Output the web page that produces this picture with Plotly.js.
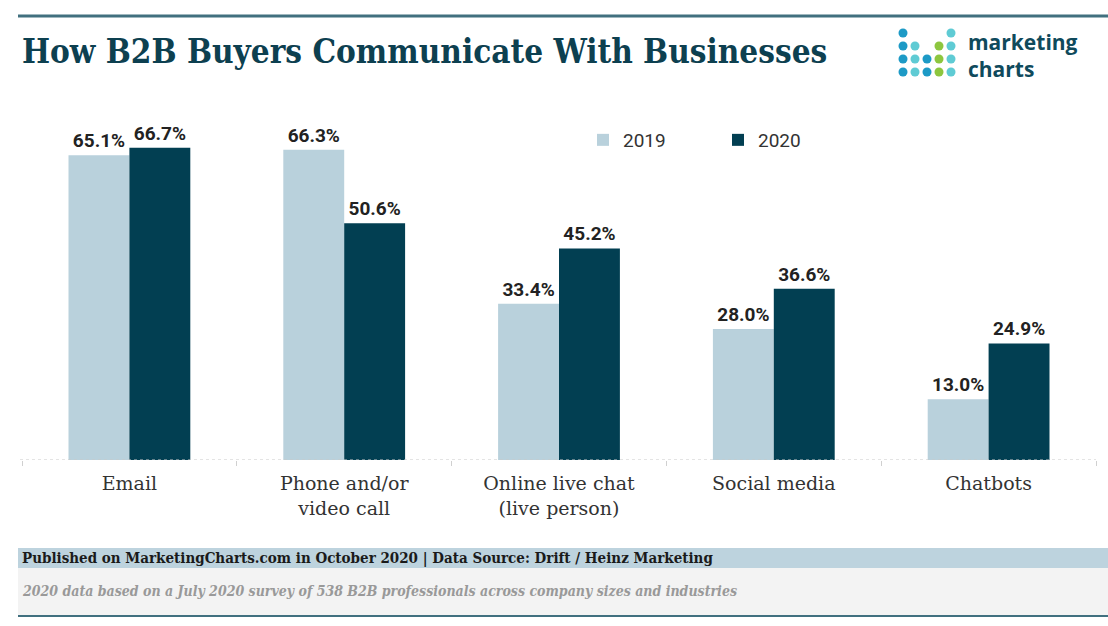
<!DOCTYPE html>
<html>
<head>
<meta charset="utf-8">
<script src="https://cdn.plot.ly/plotly-3.0.1.min.js"></script>
<style>
html,body{margin:0;padding:0;background:#fff;}
#chart{width:1108px;height:626px;}
</style>
</head>
<body>
<div id="chart"></div>
<script>
// ---- data ----
const categories = ['Email', 'Phone and/or<br>video call', 'Online live chat<br>(live person)', 'Social media', 'Chatbots'];
const seriesNames = ['2019', '2020'];
const values2019 = [65.1, 66.3, 33.4, 28.0, 13.0];
const values2020 = [66.7, 50.6, 45.2, 36.6, 24.9];

const titleText = 'How B2B Buyers Communicate With Businesses';
const footerSource = 'Published on MarketingCharts.com in October 2020 | Data Source: Drift / Heinz Marketing';
const footerNote = '2020 data based on a July 2020 survey of 538 B2B professionals across company sizes and industries';
const logoText = 'marketing<br>charts';

// ---- layout helpers (pixel -> paper) ----
const W = 1108, H = 626;
const M = {l: 22, r: 12, t: 100, b: 166};
const PW = W - M.l - M.r, PH = H - M.t - M.b;
const px = X => (X - M.l) / PW;
const py = Y => (H - M.b - Y) / PH;

const c2019 = '#b9d1dc';
const c2020 = '#023f52';
const teal = '#41707f';

const traces = [
  {type: 'bar', name: seriesNames[0], x: categories, y: values2019, marker: {color: c2019},
   texttemplate: '%{y:.1f}%', textposition: 'outside', cliponaxis: false,
   textfont: {family: 'Roboto, sans-serif', size: 19, color: '#222', weight: 'bold'}, hoverinfo: 'skip'},
  {type: 'bar', name: seriesNames[1], x: categories, y: values2020, marker: {color: c2020},
   texttemplate: '%{y:.1f}%', textposition: 'outside', cliponaxis: false,
   textfont: {family: 'Roboto, sans-serif', size: 19, color: '#222', weight: 'bold'}, hoverinfo: 'skip'}
];

const shapes = [
  // top rule
  {type: 'line', xref: 'paper', yref: 'paper', x0: px(18), x1: px(1108), y0: py(16), y1: py(16), line: {color: teal, width: 3}},
  // dashed baseline
  {type: 'line', xref: 'paper', yref: 'y', x0: px(20), x1: px(1096), y0: 0, y1: 0, line: {color: '#c8c8c8', width: 1, dash: 'dot'}},
  // footer bands
  {type: 'rect', xref: 'paper', yref: 'paper', x0: px(18), x1: px(1108), y0: py(548), y1: py(568), fillcolor: '#bdd3de', line: {width: 0}, layer: 'below'},
  {type: 'rect', xref: 'paper', yref: 'paper', x0: px(18), x1: px(1108), y0: py(568), y1: py(615), fillcolor: '#f3f3f3', line: {width: 0}, layer: 'below'},
  {type: 'line', xref: 'paper', yref: 'paper', x0: px(18), x1: px(1108), y0: py(616), y1: py(616), line: {color: teal, width: 2}}
];

// logo dots
const dotBlue = '#1d9ac6', dotTeal = '#5fcbd4', dotGreen = '#8dc63f';
const colX = [903, 915, 927, 939, 951];
const rowY = [33, 46, 59, 72];
const dotRows = [
  [dotBlue, null, null, null, dotTeal],
  [dotBlue, dotTeal, null, dotGreen, dotTeal],
  [dotBlue, dotTeal, dotBlue, dotGreen, dotTeal],
  [dotBlue, dotTeal, dotBlue, dotGreen, dotTeal]
];
const r = 4.5;
dotRows.forEach((row, i) => row.forEach((col, j) => {
  if (!col) return;
  shapes.push({type: 'circle', xref: 'paper', yref: 'paper',
    x0: px(colX[j] - r), x1: px(colX[j] + r), y0: py(rowY[i] + r), y1: py(rowY[i] - r),
    fillcolor: col, line: {width: 0}});
}));

const annotations = [
  {xref: 'paper', yref: 'paper', x: px(966), y: py(55), xanchor: 'left', yanchor: 'middle', align: 'left', showarrow: false,
   text: '<b>' + logoText + '</b>', font: {family: 'Open Sans, sans-serif', size: 21, color: '#0f4a5c'}},
  {xref: 'paper', yref: 'paper', x: px(20), y: py(558), xanchor: 'left', yanchor: 'middle', showarrow: false,
   text: '<b>' + footerSource + '</b>', font: {family: 'DejaVu Serif Condensed, DejaVu Serif, serif', size: 15, color: '#1a1a1a'}},
  {xref: 'paper', yref: 'paper', x: px(20), y: py(591), xanchor: 'left', yanchor: 'middle', showarrow: false,
   text: '<b><i>' + footerNote + '</i></b>', font: {family: 'DejaVu Serif Condensed, DejaVu Serif, serif', size: 14, color: '#999'}}
];

const layout = {
  width: W, height: H,
  margin: M,
  paper_bgcolor: '#fff', plot_bgcolor: '#fff',
  title: {text: '<b>' + titleText + '</b>', xref: 'container', yref: 'container', x: 22 / W, xanchor: 'left',
    y: 1 - 51 / H, yanchor: 'middle', font: {family: 'DejaVu Serif Condensed, DejaVu Serif, serif', size: 33, color: '#0d4050'}},
  barmode: 'group', bargap: 0.433, bargroupgap: 0,
  showlegend: true,
  legend: {orientation: 'h', xref: 'paper', yref: 'paper', x: px(583), xanchor: 'left', y: py(140), yanchor: 'middle',
    font: {family: 'Roboto, sans-serif', size: 19, color: '#333'}, entrywidth: 90, entrywidthmode: 'pixels',
    bgcolor: 'rgba(0,0,0,0)', traceorder: 'normal'},
  xaxis: {type: 'category', showgrid: false, zeroline: false, showline: false,
    ticks: 'outside', tickson: 'boundaries', ticklen: 5, tickcolor: '#d0d0d0', ticklabelstandoff: 10,
    tickfont: {family: 'DejaVu Serif, serif', size: 19, color: '#333'}, fixedrange: true},
  yaxis: {range: [0, PH / 4.68], showgrid: false, zeroline: false, showline: false, showticklabels: false, ticks: '', fixedrange: true},
  shapes: shapes,
  annotations: annotations
};

Plotly.newPlot('chart', traces, layout, {displayModeBar: false, staticPlot: true});
</script>
</body>
</html>
